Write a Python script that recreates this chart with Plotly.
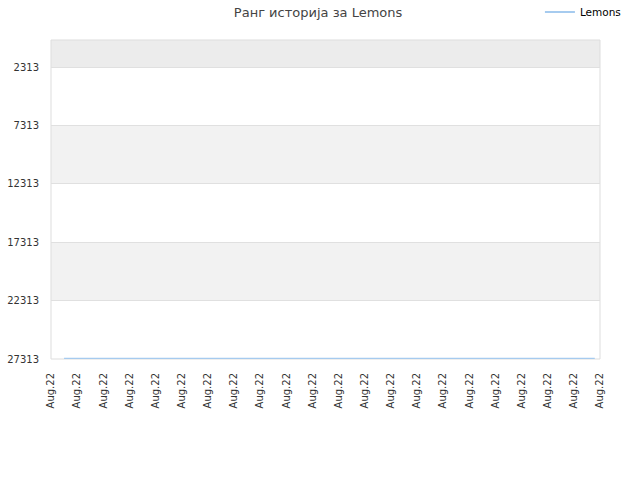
import plotly.graph_objects as go

# rank history for Lemons (lower rank number = better, axis reversed)
title = "Ранг историја за Lemons"
series_name = "Lemons"
x_pos = [0.5, 2, 4, 6, 8, 10, 12, 14, 16, 18, 20, 20.8]
ranks = [27290, 27290, 27290, 27290, 27290, 27290, 27290, 27290, 27290, 27290, 27290, 27290]
tick_vals = list(range(22))
tick_text = ["Aug.22"] * 22
y_ticks = [2313, 7313, 12313, 17313, 22313, 27313]
y_text = [str(v) for v in y_ticks]

fig = go.Figure()
fig.add_trace(go.Scatter(
    x=x_pos, y=ranks, mode="lines", name=series_name,
    line=dict(color="#a6cbef", width=2),
    showlegend=True,
))

# alternating horizontal bands
bands = [(0, 2313, "#ececec"), (7313, 12313, "#f2f2f2"), (17313, 22313, "#f2f2f2")]
for y0, y1, col in bands:
    fig.add_shape(type="rect", xref="paper", yref="y", x0=0, x1=1, y0=y0, y1=y1,
                  fillcolor=col, line_width=0, layer="below")
fig.add_shape(type="rect", xref="paper", yref="paper", x0=0, x1=1, y0=0, y1=1,
              line=dict(color="#dddddd", width=1), layer="below")

fig.update_layout(
    width=640, height=480,
    margin=dict(l=51, r=40, t=40, b=121, autoexpand=False),
    paper_bgcolor="white", plot_bgcolor="white",
    font=dict(family="DejaVu Sans", size=10, color="#333333"),
    title=dict(text=title, x=0.497, xanchor="center", xref="container",
               y=1 - 12 / 480, yanchor="middle", yref="container",
               font=dict(size=13, color="#444444")),
    legend=dict(x=0.978, y=1 - 12 / 480, xanchor="right", yanchor="middle",
                xref="container", yref="container", itemwidth=30,
                bgcolor="rgba(0,0,0,0)", font=dict(size=10.5, color="#000000")),
)
fig.update_xaxes(range=[0, 21], tickvals=tick_vals, ticktext=tick_text, tickangle=-90,
                 showgrid=False, zeroline=False, showline=False, ticks="",
                 automargin=False, ticklabelstandoff=11,
                 tickfont=dict(size=10, color="#333333"))
fig.update_yaxes(range=[27313, 0], tickvals=y_ticks, ticktext=y_text, showgrid=True,
                 gridcolor="#e0e0e0", zeroline=False, showline=False, ticks="",
                 automargin=False, ticklabelstandoff=11,
                 tickfont=dict(size=10, color="#333333"))

fig.write_html("out.html", config={"displayModeBar": False},
               post_script="document.body.style.margin='0';")
